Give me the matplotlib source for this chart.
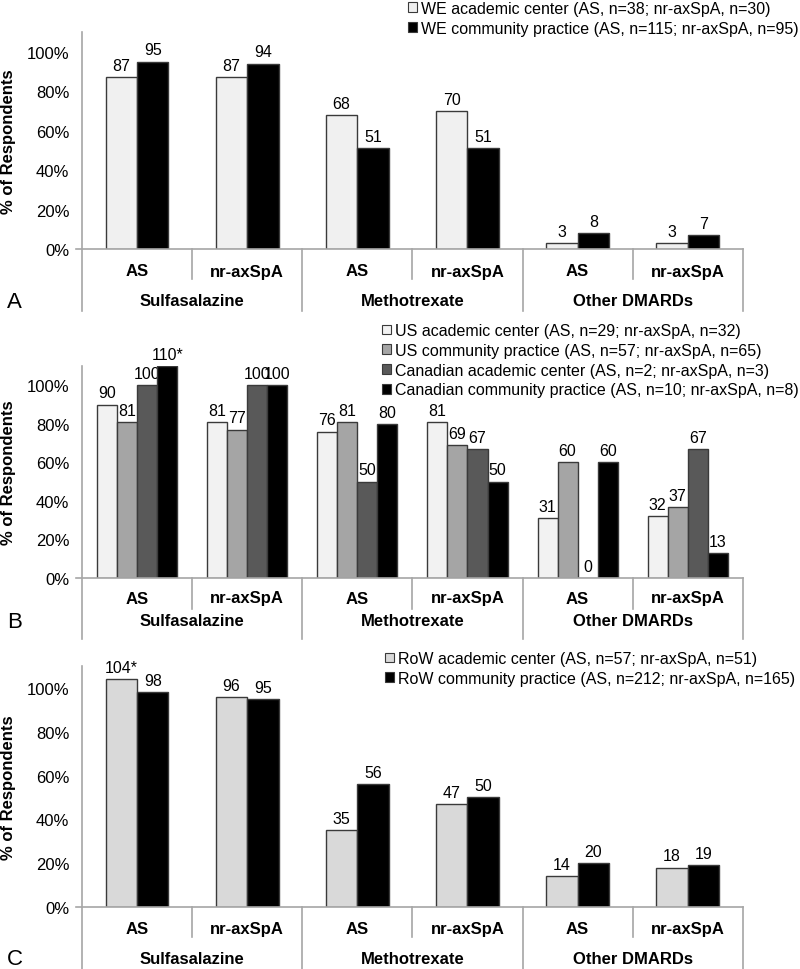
import numpy as np
import matplotlib.pyplot as plt
from matplotlib.patches import Patch

plt.rcParams['font.family'] = ['Liberation Sans', 'DejaVu Sans']

sub_labels = ['AS', 'nr-axSpA', 'AS', 'nr-axSpA', 'AS', 'nr-axSpA']
drug_labels = ['Sulfasalazine', 'Methotrexate', 'Other DMARDs']
yticks = [0, 20, 40, 60, 80, 100]

# Panel A - Western Europe
a_names = ['WE academic center (AS, n=38; nr-axSpA, n=30)',
           'WE community practice (AS, n=115; nr-axSpA, n=95)']
a_academic = [87, 87, 68, 70, 3, 3]
a_community = [95, 94, 51, 51, 8, 7]

# Panel B - US / Canada
b_names = ['US academic center (AS, n=29; nr-axSpA, n=32)',
           'US community practice (AS, n=57; nr-axSpA, n=65)',
           'Canadian academic center (AS, n=2; nr-axSpA, n=3)',
           'Canadian community practice (AS, n=10; nr-axSpA, n=8)']
b_us_acad = [90, 81, 76, 81, 31, 32]
b_us_comm = [81, 77, 81, 69, 60, 37]
b_ca_acad = [100, 100, 50, 67, 0, 67]
b_ca_comm = [110, 100, 80, 50, 60, 13]

# Panel C - Rest of world
c_names = ['RoW academic center (AS, n=57; nr-axSpA, n=51)',
           'RoW community practice (AS, n=212; nr-axSpA, n=165)']
c_academic = [104, 96, 35, 47, 14, 18]
c_community = [98, 95, 56, 50, 20, 19]

FIG_H = 970
LINE = '#a6a6a6'
EDGE = '#3a3a3a'

fig = plt.figure(figsize=(8, 9.7), dpi=100)


def draw_panel(rect, series, colors, names, width, letter, sub_px, drug_px,
               short_px, long_px, leg_anchor):
    ax = fig.add_axes(rect)
    h_px = rect[3] * FIG_H
    x = np.arange(len(sub_labels))
    n = len(series)
    for i, (vals, col) in enumerate(zip(series, colors)):
        pos = x + (i - (n - 1) / 2) * width
        ax.bar(pos, vals, width, color=col, edgecolor=EDGE, linewidth=1, zorder=3)
        for p, v in zip(pos, vals):
            lab = f'{v}*' if v > 100 else f'{v}'
            ax.annotate(lab, (p, v), xytext=(0, 3), textcoords='offset points',
                        ha='center', va='bottom', fontsize=11.5, annotation_clip=False)
    ax.set_xlim(-0.5, 5.5)
    ax.set_ylim(0, 110)
    ax.set_yticks(yticks)
    ax.set_yticklabels([f'{t}%' for t in yticks], fontsize=12)
    ax.tick_params(axis='y', length=0, pad=9)
    ax.set_xticks([])
    for s in ax.spines.values():
        s.set_visible(False)
    tr = ax.get_xaxis_transform()
    # baseline
    ax.plot([-0.55, 5.5], [0, 0], color=LINE, lw=1.2, transform=tr, clip_on=False, zorder=4)
    # left axis line
    ax.plot([-0.5, -0.5], [1, -long_px / h_px], color=LINE, lw=1.2, transform=tr, clip_on=False)
    for b in [0.5, 2.5, 4.5]:
        ax.plot([b, b], [0, -short_px / h_px], color=LINE, lw=1.2, transform=tr, clip_on=False)
    for b in [1.5, 3.5, 5.5]:
        ax.plot([b, b], [0, -long_px / h_px], color=LINE, lw=1.2, transform=tr, clip_on=False)
    for xi, lab in zip(x, sub_labels):
        ax.text(xi, -sub_px / h_px, lab, transform=tr, ha='center', va='center',
                fontsize=12, fontweight='bold')
    for xi, lab in zip([0.5, 2.5, 4.5], drug_labels):
        ax.text(xi, -drug_px / h_px, lab, transform=tr, ha='center', va='center',
                fontsize=12, fontweight='bold')
    ax.text(-0.5 - 75 / 110, -drug_px / h_px, letter, transform=tr, ha='left',
            va='center', fontsize=16)
    ax.set_ylabel('% of Respondents', fontsize=12, fontweight='bold', va='center')
    ax.yaxis.set_label_coords(-0.111, 0.5)
    handles = [Patch(facecolor=c, edgecolor=EDGE, linewidth=0.8) for c in colors]
    fig.legend(handles, names, loc='upper right', bbox_to_anchor=leg_anchor,
               frameon=False, fontsize=11.5, handlelength=0.55, handleheight=0.55,
               handletextpad=0.25, labelspacing=0.3, borderpad=0, borderaxespad=0)
    return ax


draw_panel([0.1025, 1 - 250 / FIG_H, 0.826, 217 / FIG_H],
           [a_academic, a_community], ['#f0f0f0', '#000000'], a_names, 0.285, 'A',
           22, 52, 30, 62, (0.998, 0.998))

draw_panel([0.1025, 1 - 579 / FIG_H, 0.826, 212 / FIG_H],
           [b_us_acad, b_us_comm, b_ca_acad, b_ca_comm],
           ['#f2f2f2', '#a5a5a5', '#595959', '#000000'], b_names, 0.182, 'B',
           20, 43, 31, 61, (0.998, 1 - 324 / FIG_H))

draw_panel([0.1025, 1 - 908 / FIG_H, 0.826, 241 / FIG_H],
           [c_academic, c_community], ['#d9d9d9', '#000000'], c_names, 0.285, 'C',
           22, 52, 30, 62, (0.994, 1 - 652 / FIG_H))

fig.savefig('out.png', dpi=100)
